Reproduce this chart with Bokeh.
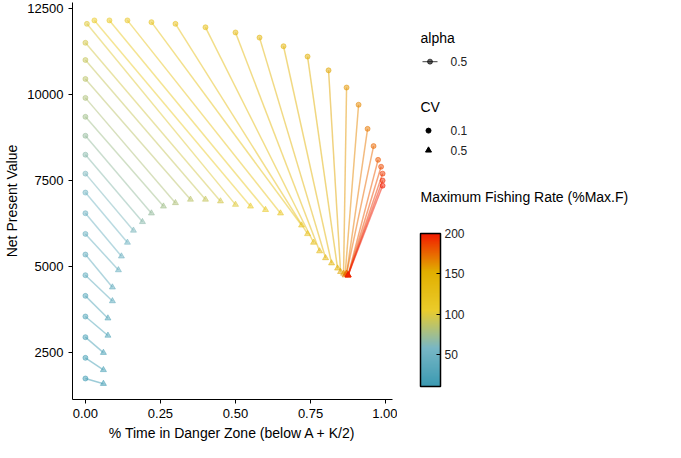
import numpy as np
from bokeh.plotting import figure
from bokeh.models import ColumnDataSource, LinearColorMapper, ColorBar, FixedTicker, Range1d
from bokeh.transform import transform
from bokeh.core.properties import value
from bokeh.layouts import row
from bokeh.embed import file_html
from bokeh.resources import INLINE

F = [10,15,20,25,30,35,40,45,50,55,60,65,70,75,80,85,90,95,100,
     105,110,115,120,125,130,135,140,145,150,155,160,165,170,175,180,185,190,195,200]
x_cv01 = [0,0,0,0,0,0,0,0,0,0,0,0,0,0,0,0,0,0,0.005,
          0.03,0.08,0.14,0.22,0.30,0.40,0.50,0.58,0.66,0.74,0.81,0.87,0.91,0.94,0.96,0.975,0.985,0.99,0.99,0.99]
npv_cv01 = [1750,2350,2950,3550,4150,4750,5350,5950,6550,7150,7700,8250,8800,9350,9900,10450,11000,11500,12050,
            12150,12150,12150,12100,12050,11950,11800,11650,11400,11100,10700,10200,9700,9000,8500,8100,7900,7700,7500,7350]
x_cv05 = [0.06,0.06,0.06,0.075,0.075,0.09,0.09,0.11,0.12,0.14,0.16,0.19,0.22,0.26,0.30,0.35,0.40,0.45,0.50,
          0.55,0.60,0.65,0.72,0.74,0.76,0.78,0.80,0.82,0.84,0.85,0.86,0.865,0.87,0.87,0.875,0.875,0.875,0.875,0.875]
npv_cv05 = [1600,2000,2500,3000,3500,4000,4400,4900,5300,5700,6050,6300,6550,6750,6850,6950,6950,6900,6800,
            6750,6650,6550,6200,5950,5700,5450,5250,5100,4950,4850,4800,4750,4800,4800,4750,4750,4750,4750,4750]

stops = ["#3B9AB2", "#78B7C5", "#EBCC2A", "#E1AF00", "#F21A00"]
def hex2rgb(h): return [int(h[i:i+2], 16) for i in (1, 3, 5)]
rgb = np.array([hex2rgb(s) for s in stops], float)
pos = np.linspace(0, 1, len(stops))
t = np.linspace(0, 1, 256)
palette = ["#%02x%02x%02x" % tuple(int(round(np.interp(v, pos, rgb[:, k]))) for k in range(3)) for v in t]
mapper = LinearColorMapper(palette=palette, low=10, high=200)

src = ColumnDataSource(dict(F=F, x0=x_cv01, y0=npv_cv01, x1=x_cv05, y1=npv_cv05))

FONT = "Liberation Sans"
p = figure(width=397, height=442, frame_width=320, frame_height=397,
           min_border_left=72, min_border_right=5, min_border_top=2, min_border_bottom=43,
           x_range=Range1d(-0.043, 1.023), y_range=Range1d(1140, 12670),
           output_backend="svg", toolbar_location=None)
p.segment("x0", "y0", "x1", "y1", source=src, line_color=transform("F", mapper), line_alpha=0.5, line_width=1.5)
p.scatter("x0", "y0", source=src, marker="circle", size=5, fill_color=transform("F", mapper),
          line_color=transform("F", mapper), alpha=0.5)
p.scatter("x1", "y1", source=src, marker="triangle", size=6, fill_color=transform("F", mapper),
          line_color=transform("F", mapper), alpha=0.5)
p.xgrid.visible = False
p.ygrid.visible = False
p.outline_line_color = None
p.xaxis.ticker = FixedTicker(ticks=[0, 0.25, 0.5, 0.75, 1.0])
p.xaxis.major_label_overrides = {0: "0.00", 0.25: "0.25", 0.5: "0.50", 0.75: "0.75", 1.0: "1.00"}
p.yaxis.ticker = FixedTicker(ticks=[2500, 5000, 7500, 10000, 12500])
p.xaxis.axis_label = "% Time in Danger Zone (below A + K/2)"
p.yaxis.axis_label = "Net Present Value"
for ax in (p.xaxis[0], p.yaxis[0]):
    ax.axis_line_color = "black"
    ax.major_tick_line_color = "black"
    ax.minor_tick_line_color = None
    ax.major_tick_out = 4
    ax.major_tick_in = 0
    ax.major_label_text_font = FONT
    ax.major_label_text_font_size = "13px"
    ax.major_label_text_color = "black"
    ax.axis_label_text_font = FONT
    ax.axis_label_text_font_size = "14px"
    ax.axis_label_text_font_style = "normal"
    ax.axis_label_text_color = "black"
    ax.axis_label_standoff = 4

# legend panel
lg = figure(width=268, height=442, x_range=Range1d(0, 268), y_range=Range1d(442, 0),
            min_border=0, output_backend="svg", toolbar_location=None)
lg.axis.visible = False
lg.grid.visible = False
lg.outline_line_color = None
TS = "14px"; LS = "12px"
lg.text(x=[23, 23, 23], y=[40, 117, 217], text=["alpha", "CV", "Maximum Fishing Rate (%Max.F)"],
        text_font=value(FONT), text_font_size=TS, text_baseline="middle", text_color="black")
lg.text(x=[53, 53, 53], y=[66, 143, 165], text=["0.5", "0.1", "0.5"],
        text_font=value(FONT), text_font_size=LS, text_baseline="middle", text_color="#222222")
lg.segment(x0=[25], y0=[66], x1=[40], y1=[66], line_color="black", line_alpha=0.6, line_width=1.2)
lg.scatter(x=[32.5], y=[66], marker="circle", size=5, color="black", alpha=0.6)
lg.scatter(x=[31], y=[143], marker="circle", size=5, color="black")
lg.scatter(x=[31], y=[165], marker="triangle", size=6, color="black")

cb = ColorBar(color_mapper=mapper, width=20, height=153, location=(23, 12), padding=0, margin=0,
              ticker=FixedTicker(ticks=[50, 100, 150, 200]), bar_line_color="black", bar_line_width=1.5,
              major_tick_line_color="black", major_tick_in=4, major_tick_out=0, minor_tick_line_color=None,
              major_label_text_font=FONT, major_label_text_font_size=LS, major_label_text_color="#222222",
              background_fill_color=None, border_line_color=None, label_standoff=4)
lg.add_layout(cb, "center")

layout = row(p, lg)
open("out.html", "w").write(file_html(layout, INLINE))
